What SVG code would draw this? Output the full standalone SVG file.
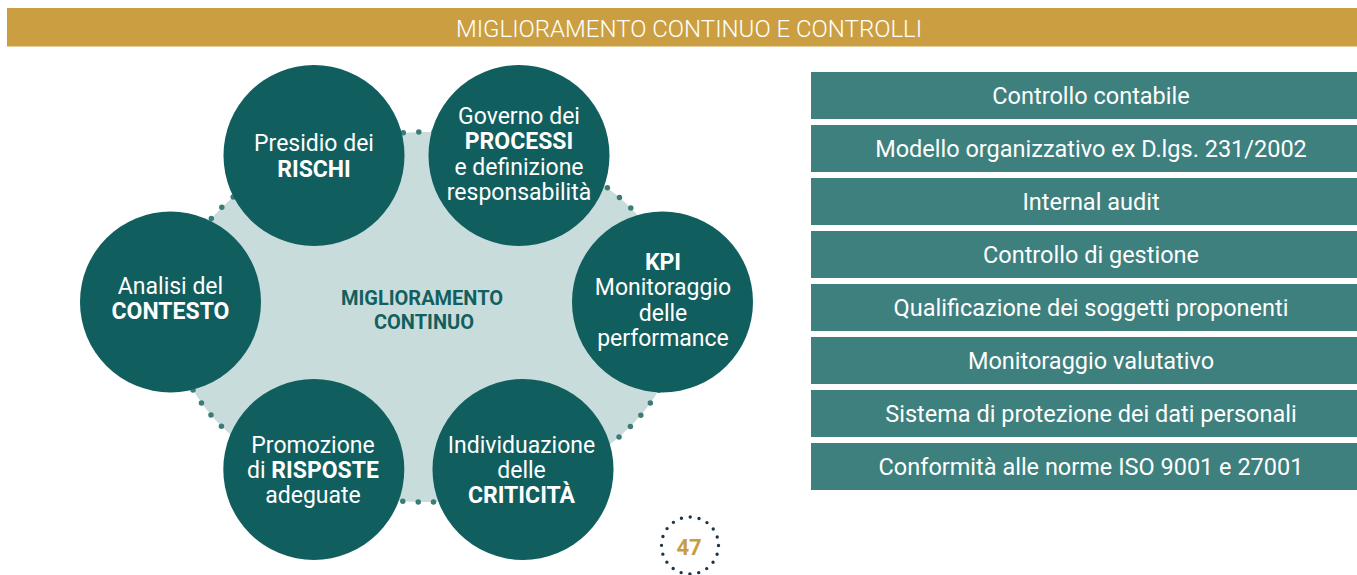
<svg xmlns="http://www.w3.org/2000/svg" width="1357" height="575" viewBox="0 0 1357 575">
<style>
.hdr{fill:#cb9f41}
.hdrt{font-family:Roboto,"Liberation Sans",sans-serif;font-size:24px;font-weight:300;fill:#ffffff;text-anchor:middle}
.node{fill:#115e5f}
.nt{font-family:Roboto,"Liberation Sans",sans-serif;font-size:23px;fill:#ffffff;text-anchor:middle}
.b{font-weight:700}
.box{fill:#3e807d}
.bt{font-family:Roboto,"Liberation Sans",sans-serif;font-size:23.5px;fill:#ffffff;text-anchor:middle}
.ct{font-family:Roboto,"Liberation Sans",sans-serif;font-size:20px;font-weight:700;fill:#135f5f;text-anchor:middle}
</style>
<rect width="1357" height="575" fill="#ffffff"/>
<g id="header">
<rect class="hdr" x="7" y="8" width="1350" height="38.5"/>
<text class="hdrt" x="689" y="37.3">MIGLIORAMENTO CONTINUO E CONTROLLI</text>
</g>
<g id="connectors">
<ellipse cx="426" cy="317" rx="253.5" ry="185" fill="#c8dcdb" stroke="#3b7c79" stroke-width="5.5" stroke-linecap="round" stroke-dasharray="0 15.4"/>
</g>
<g id="center-label">
<text class="ct" x="422" y="305">MIGLIORAMENTO</text>
<text class="ct" x="424" y="328.5">CONTINUO</text>
</g>
<g id="node-presidio">
<circle class="node" cx="314" cy="155.5" r="90.5"/>
<text class="nt" x="314" y="151">Presidio dei</text>
<text class="nt b" x="314" y="177">RISCHI</text>
</g>
<g id="node-governo">
<circle class="node" cx="519" cy="155.5" r="90.5"/>
<text class="nt" x="519" y="123.5">Governo dei</text>
<text class="nt b" x="519" y="149">PROCESSI</text>
<text class="nt" x="519" y="174.5">e definizione</text>
<text class="nt" x="519" y="199.5">responsabilità</text>
</g>
<g id="node-analisi">
<circle class="node" cx="170.5" cy="302" r="90.5"/>
<text class="nt" x="170.5" y="293.5">Analisi del</text>
<text class="nt b" x="170.5" y="318.5">CONTESTO</text>
</g>
<g id="node-kpi">
<circle class="node" cx="662.5" cy="302" r="90.5"/>
<text class="nt b" x="663" y="270">KPI</text>
<text class="nt" x="663" y="295">Monitoraggio</text>
<text class="nt" x="663" y="320.5">delle</text>
<text class="nt" x="663" y="345.5">performance</text>
</g>
<g id="node-promozione">
<circle class="node" cx="313.8" cy="469.5" r="90.5"/>
<text class="nt" x="313" y="452.5">Promozione</text>
<text class="nt" x="313" y="477.5">di <tspan class="b">RISPOSTE</tspan></text>
<text class="nt" x="313" y="502.5">adeguate</text>
</g>
<g id="node-individuazione">
<circle class="node" cx="523" cy="469.5" r="90.5"/>
<text class="nt" x="521.5" y="452.5">Individuazione</text>
<text class="nt" x="521.5" y="477.5">delle</text>
<text class="nt b" x="521.5" y="502.5">CRITICITÀ</text>
</g>
<g id="controls">
<rect class="box" x="811" y="72" width="546" height="47"/>
<text class="bt" x="1091" y="104">Controllo contabile</text>
<rect class="box" x="811" y="125" width="546" height="47"/>
<text class="bt" x="1091" y="157">Modello organizzativo ex D.lgs. 231/2002</text>
<rect class="box" x="811" y="178" width="546" height="47"/>
<text class="bt" x="1091" y="210">Internal audit</text>
<rect class="box" x="811" y="231" width="546" height="47"/>
<text class="bt" x="1091" y="263">Controllo di gestione</text>
<rect class="box" x="811" y="284" width="546" height="47"/>
<text class="bt" x="1091" y="316">Qualificazione dei soggetti proponenti</text>
<rect class="box" x="811" y="337" width="546" height="47"/>
<text class="bt" x="1091" y="369">Monitoraggio valutativo</text>
<rect class="box" x="811" y="390" width="546" height="47"/>
<text class="bt" x="1091" y="422">Sistema di protezione dei dati personali</text>
<rect class="box" x="811" y="443" width="546" height="47"/>
<text class="bt" x="1091" y="475">Conformità alle norme ISO 9001 e 27001</text>
</g>
<g id="page-number">
<circle cx="690" cy="545.5" r="28.5" fill="none" stroke="#17364a" stroke-width="3.4" stroke-linecap="round" stroke-dasharray="0 8.954"/>
<text x="689" y="555" font-family="Roboto,'Liberation Sans',sans-serif" font-size="22" font-weight="700" fill="#c99d3d" text-anchor="middle">47</text>
</g>
</svg>
